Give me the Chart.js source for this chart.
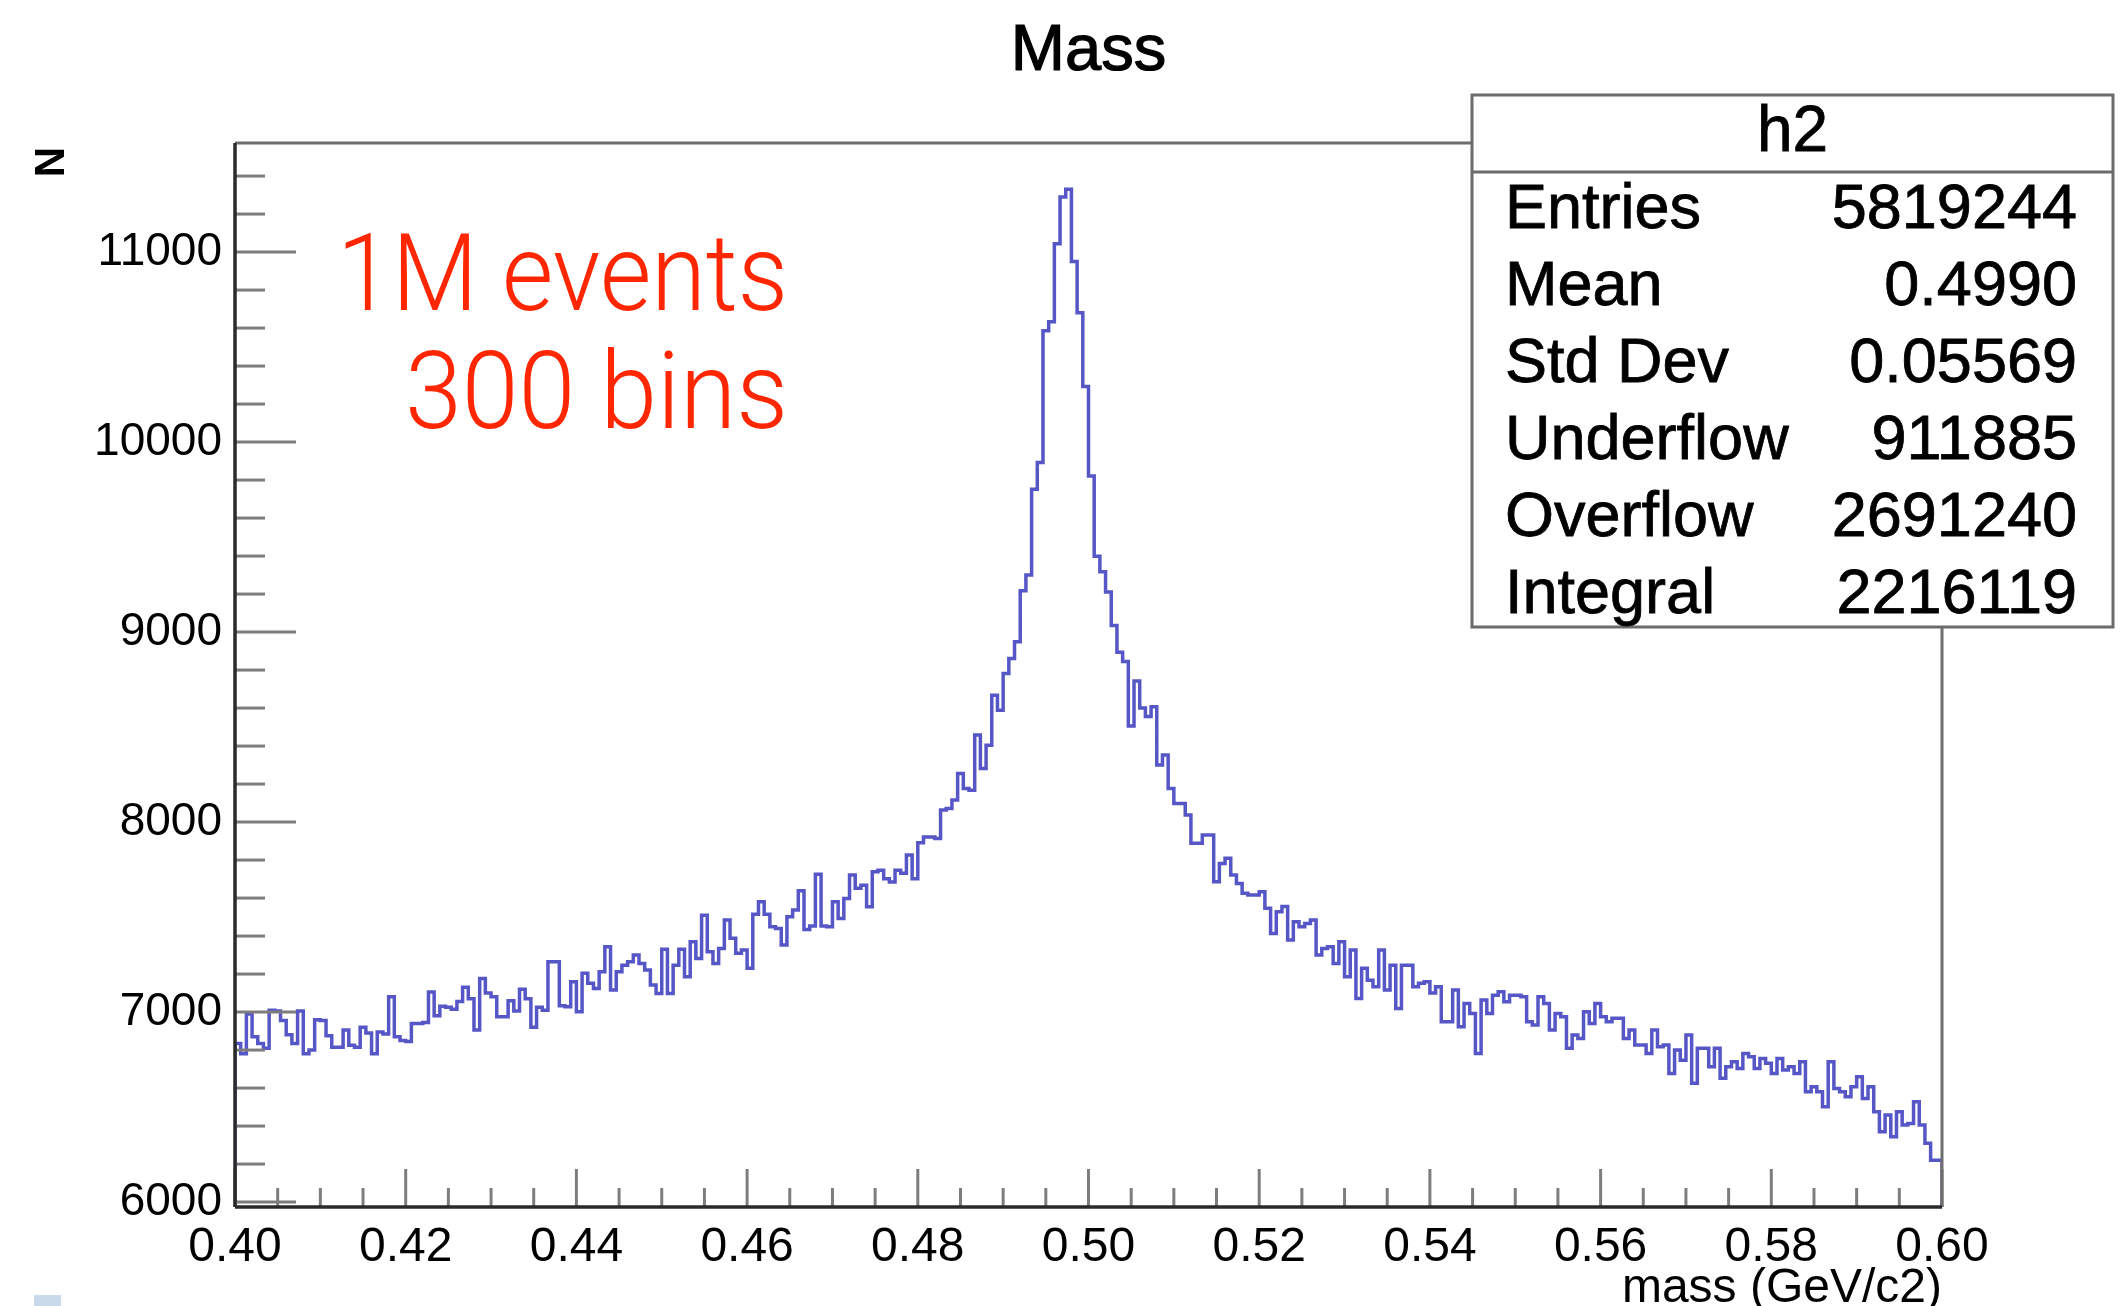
<!DOCTYPE html>
<html>
<head>
<meta charset="utf-8">
<title>Mass</title>
<script src="https://cdn.jsdelivr.net/npm/chart.js@4.4.1/dist/chart.umd.min.js"></script>
<style>
  html, body { margin: 0; padding: 0; background: #fff; }
  canvas { display: block; }
</style>
</head>
<body>
<canvas id="massChart" width="2126" height="1306"></canvas>
<script>
// --- HISTOGRAM DATA | h2 --- //
const xMin = 0.40;
const xMax = 0.60;
const yMin = 5974;
const yMax = 11574;

// bins 0-99 (0.400 - 0.467)
const countsLow = [
  6830, 6835, 6780, 6990, 6870, 6835, 6810, 7010, 7005, 6955,
  6880, 6835, 7005, 6780, 6800, 6960, 6955, 6875, 6815, 6815,
  6905, 6825, 6815, 6920, 6890, 6780, 6895, 6885, 7080, 6870,
  6850, 6845, 6940, 6940, 6945, 7105, 6980, 7030, 7025, 7015,
  7055, 7130, 7070, 6905, 7177, 7100, 7080, 6975, 6975, 7060,
  7005, 7120, 7070, 6920, 7025, 7010, 7265, 7265, 7033, 7028,
  7160, 7002, 7204, 7151, 7124, 7212, 7344, 7116, 7212, 7247,
  7265, 7300, 7256, 7221, 7142, 7098, 7330, 7098, 7247, 7330,
  7186, 7370, 7282, 7510, 7318, 7256, 7335, 7484, 7388, 7309,
  7326, 7230, 7515, 7580, 7515, 7449, 7440, 7353, 7502, 7537
];

// bins 100-199 (0.467 - 0.533)
const countsPeak = [
  7639, 7435, 7453, 7725, 7453, 7449, 7580, 7493, 7598, 7721,
  7651, 7668, 7554, 7738, 7746, 7702, 7684, 7746, 7730, 7826,
  7702, 7891, 7921, 7921, 7913, 8063, 8072, 8116, 8256, 8177,
  8168, 8458, 8282, 8404, 8668, 8589, 8782, 8861, 8949, 9217,
  9300, 9752, 9893, 10586, 10633, 11044, 11290, 11330, 10950, 10680,
  10292, 9822, 9399, 9317, 9211, 9035, 8894, 8845, 8506, 8742,
  8600, 8555, 8607, 8300, 8353, 8177, 8098, 8098, 8037, 7888,
  7888, 7932, 7932, 7686, 7782, 7809, 7721, 7677, 7625, 7616,
  7616, 7633, 7546, 7414, 7528, 7555, 7379, 7475, 7449, 7466,
  7484, 7300, 7335, 7344, 7256, 7370, 7186, 7326, 7072, 7230
];

// bins 200-299 (0.533 - 0.600)
const countsHigh = [
  7168, 7133, 7326, 7116, 7247, 7019, 7247, 7247, 7133, 7151,
  7160, 7100, 7133, 6949, 6949, 7116, 6923, 7045, 6993, 6782,
  7063, 6993, 7089, 7107, 7054, 7089, 7089, 7081, 6949, 6932,
  7081, 7045, 6905, 6993, 6975, 6809, 6879, 6861, 7002, 6940,
  7045, 6975, 6949, 6967, 6967, 6861, 6905, 6826, 6826, 6782,
  6905, 6818, 6826, 6677, 6800, 6747, 6879, 6625, 6809, 6809,
  6712, 6809, 6651, 6712, 6739, 6703, 6782, 6765, 6703, 6756,
  6730, 6677, 6756, 6695, 6712, 6677, 6739, 6580, 6607, 6580,
  6502, 6739, 6598, 6580, 6554, 6607, 6660, 6545, 6607, 6475,
  6370, 6458, 6344, 6475, 6405, 6414, 6528, 6405, 6310, 6220
];

const xTicks = [0.40, 0.42, 0.44, 0.46, 0.48, 0.50, 0.52, 0.54, 0.56, 0.58, 0.60];
const yTicks = [6000, 7000, 8000, 9000, 10000, 11000];

const statLabels = ['Entries', 'Mean', 'Std Dev', 'Underflow', 'Overflow', 'Integral'];
const statValues = ['5819244', '0.4990', '0.05569', '911885', '2691240', '2216119'];

const FONT = "'Liberation Sans', Arial, Helvetica, sans-serif";

// --- STEP POINTS (one per bin low edge) --- //
const counts = countsLow.concat(countsPeak, countsHigh);
const binWidth = (xMax - xMin) / counts.length;
const points = [{ x: xMin, y: yMin }];
counts.forEach((c, i) => points.push({ x: xMin + i * binWidth, y: c }));
points.push({ x: xMax, y: counts[counts.length - 1] });
points.push({ x: xMax, y: yMin });

// --- FRAME + ROOT STYLE TICKS --- //
const frameTicks = {
  id: 'frameTicks',
  afterDatasetsDraw(chart) {
    const { ctx, chartArea: a, scales: { x, y } } = chart;
    const seg = (x1, y1, x2, y2) => {
      ctx.beginPath();
      ctx.moveTo(x1, y1);
      ctx.lineTo(x2, y2);
      ctx.stroke();
    };
    ctx.save();
    ctx.lineWidth = 3;
    ctx.strokeStyle = '#7d7d7d';

    // y: major every 1000, minor every 200, pointing inside
    for (let v = 6000; v <= yMax; v += 200) {
      const py = y.getPixelForValue(v);
      seg(a.left, py, a.left + (v % 1000 === 0 ? 61 : 30), py);
    }
    // x: major every 0.02, minor every 0.005
    for (let k = 0; k <= 40; k++) {
      const px = x.getPixelForValue(xMin + k * 0.005);
      seg(px, a.bottom, px, a.bottom - (k % 4 === 0 ? 38 : 19));
    }

    // frame
    ctx.strokeStyle = '#6e6e6e';
    seg(a.left, a.top, a.right, a.top);
    seg(a.right, a.top, a.right, a.bottom);
    ctx.strokeStyle = '#2a2a2a';
    ctx.lineWidth = 3.5;
    seg(a.left, a.top, a.left, a.bottom);
    seg(a.left, a.bottom, a.right, a.bottom);
    ctx.restore();
  }
};

// slightly heavier text, like the blurred ROOT screenshot
function boldish(ctx, txt, x, y) {
  ctx.fillText(txt, x, y);
  ctx.strokeText(txt, x, y);
}

// --- TEXTS + STATS BOX --- //
const annotations = {
  id: 'annotations',
  afterDraw(chart) {
    const { ctx, chartArea: a } = chart;
    ctx.save();
    ctx.fillStyle = '#000';
    ctx.strokeStyle = '#000';
    ctx.lineWidth = 1.2;

    // title
    ctx.font = `65px ${FONT}`;
    ctx.textAlign = 'center';
    ctx.textBaseline = 'alphabetic';
    boldish(ctx, 'Mass', (a.left + a.right) / 2, 70);

    // y title
    ctx.save();
    ctx.translate(52, a.top + 4);
    ctx.rotate(-Math.PI / 2);
    ctx.font = `bold 42px ${FONT}`;
    ctx.textAlign = 'right';
    ctx.textBaseline = 'middle';
    ctx.fillText('N', 0, 0);
    ctx.restore();

    // x title
    ctx.font = `48px ${FONT}`;
    ctx.textAlign = 'right';
    ctx.textBaseline = 'alphabetic';
    ctx.fillText('mass (GeV/c2)', a.right, 1302);

    // red note
    ctx.fillStyle = 'rgb(255, 38, 0)';
    ctx.font = `300 108px Roboto, ${FONT}`;
    const note = [['1M events', 310, 451], ['300 bins', 428, 383]];
    note.forEach(([txt, base, w]) => {
      const m = ctx.measureText(txt).width;
      ctx.save();
      ctx.translate(788, base);
      ctx.scale(w / m, 1);
      ctx.textAlign = 'right';
      ctx.fillText(txt, 0, 0);
      ctx.restore();
    });

    // stats box
    const bx = 1472, by = 95, bw = 641, bh = 532;
    ctx.fillStyle = '#fff';
    ctx.fillRect(bx, by, bw, bh);
    ctx.strokeStyle = '#6b6b6b';
    ctx.lineWidth = 3;
    ctx.strokeRect(bx, by, bw, bh);
    ctx.beginPath();
    ctx.moveTo(bx, 172);
    ctx.lineTo(bx + bw, 172);
    ctx.stroke();

    ctx.fillStyle = '#000';
    ctx.strokeStyle = '#000';
    ctx.lineWidth = 0.8;
    ctx.font = `64px ${FONT}`;
    ctx.textAlign = 'center';
    boldish(ctx, 'h2', bx + bw / 2, 151);

    ctx.font = `63px ${FONT}`;
    statLabels.forEach((lab, i) => {
      const base = 228 + i * 77;
      ctx.textAlign = 'left';
      boldish(ctx, lab, 1505, base);
      ctx.textAlign = 'right';
      boldish(ctx, statValues[i], 2077, base);
    });

    // little blue mark bottom-left
    ctx.fillStyle = '#c9dbeb';
    ctx.fillRect(34, 1295, 27, 11);
    ctx.restore();
  }
};

// --- CHART --- //
const massCanvas = document.getElementById('massChart');

const dataMass = {
  datasets: [
    {
      label: 'h2',
      data: points,
      stepped: 'after',
      borderColor: 'rgb(86, 86, 198)',
      borderWidth: 3.5,
      pointRadius: 0,
      fill: false
    }
  ]
};

const massChart = new Chart(massCanvas, {
  type: 'line',
  data: dataMass,
  options: {
    responsive: false,
    devicePixelRatio: 1,
    animation: false,
    layout: { padding: { left: 0, right: 184, top: 143, bottom: 0 } },
    scales: {
      x: {
        type: 'linear',
        min: xMin,
        max: xMax,
        grid: { display: false, drawTicks: false },
        border: { display: false },
        afterBuildTicks: scale => { scale.ticks = xTicks.map(v => ({ value: v })); },
        afterFit: scale => { scale.height = 99; },
        ticks: {
          autoSkip: false,
          maxRotation: 0,
          padding: 12,
          color: '#000',
          font: { family: FONT, size: 48 },
          callback: v => v.toFixed(2)
        }
      },
      y: {
        type: 'linear',
        min: yMin,
        max: yMax,
        grid: { display: false, drawTicks: false },
        border: { display: false },
        afterBuildTicks: scale => { scale.ticks = yTicks.map(v => ({ value: v })); },
        afterFit: scale => { scale.width = 235; },
        ticks: {
          autoSkip: false,
          padding: 13,
          color: '#000',
          font: { family: FONT, size: 46 },
          callback: v => String(v)
        }
      }
    },
    plugins: {
      legend: { display: false },
      tooltip: { enabled: false },
      title: { display: false }
    }
  },
  plugins: [frameTicks, annotations]
});
</script>
</body>
</html>
